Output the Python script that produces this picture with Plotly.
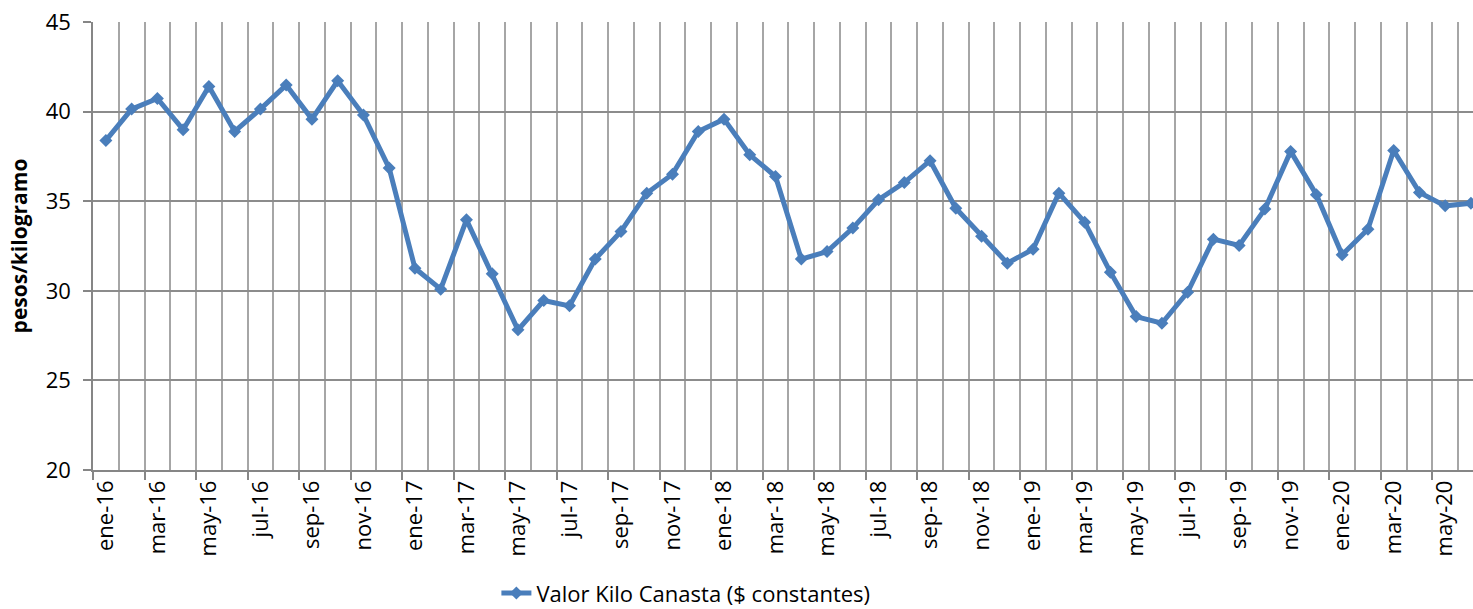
import plotly.graph_objects as go

meses = ["ene", "feb", "mar", "abr", "may", "jun", "jul", "ago", "sep", "oct", "nov", "dic"]
months = [f"{m}-{y}" for y in ["16", "17", "18", "19", "20"] for m in meses][:54]

valor_kilo = [
    38.39, 40.14, 40.73, 38.99, 41.40, 38.89, 40.14, 41.48, 39.58, 41.72, 39.81, 36.85,
    31.26, 30.09, 33.96, 30.95, 27.82, 29.46, 29.16, 31.77, 33.31, 35.45, 36.51, 38.89,
    39.58, 37.59, 36.38, 31.77, 32.19, 33.50, 35.08, 36.04, 37.26, 34.61, 33.05, 31.54,
    32.32, 35.45, 33.83, 31.04, 28.56, 28.19, 29.92, 32.88, 32.53, 34.56, 37.78, 35.36,
    32.01, 33.44, 37.83, 35.49, 34.74, 34.89,
]

series_name = "Valor Kilo Canasta ($ constantes)"
y_title = "pesos/kilogramo"
y_ticks = [20, 25, 30, 35, 40, 45]

x_idx = list(range(len(months)))
label_pos = [i - 0.5 for i in x_idx[::2]]
label_txt = months[::2]
minor_pos = [i + 0.5 for i in x_idx[::2]]

FONT = "Open Sans"
GRID = "#A6A6A6"
BLUE = "#4A7EBB"

fig = go.Figure()
fig.add_trace(go.Scatter(
    x=x_idx, y=valor_kilo, name=series_name, mode="lines+markers",
    line=dict(color=BLUE, width=5),
    marker=dict(symbol="diamond", size=10, color=BLUE),
    cliponaxis=False,
))

fig.update_layout(
    width=1473, height=609,
    margin=dict(l=93, r=0, t=22, b=139, autoexpand=False),
    paper_bgcolor="white", plot_bgcolor="white",
    font=dict(family=FONT, size=22, color="black"),
    showlegend=True,
    legend=dict(orientation="h", xref="container", yref="container",
                x=0.337, xanchor="left", y=0.026, yanchor="middle",
                font=dict(family=FONT, size=22, color="black")),
    xaxis=dict(
        range=[-0.5, 53.08],
        tickmode="array", tickvals=label_pos, ticktext=label_txt,
        tickangle=-90, ticklabelshift=13, ticklabelstandoff=-8,
        ticks="outside", ticklen=8, tickcolor="#868686", tickwidth=1.5,
        showgrid=True, gridcolor=GRID, gridwidth=2,
        minor=dict(tickmode="array", tickvals=minor_pos, showgrid=True,
                   gridcolor=GRID, gridwidth=2, ticks=""),
        showline=True, linecolor="#868686", linewidth=1.5,
        zeroline=False, automargin=False,
        tickfont=dict(family=FONT, size=22),
    ),
    yaxis=dict(
        range=[20, 45], tickmode="array", tickvals=y_ticks,
        ticks="outside", ticklen=8, tickcolor="#868686", tickwidth=1.5,
        ticklabelstandoff=8,
        showgrid=True, gridcolor="#8C8C8C", gridwidth=2,
        showline=True, linecolor="#868686", linewidth=1.5,
        zeroline=False, automargin=False,
        title=dict(text=f"<b>{y_title}</b>", font=dict(family=FONT, size=21), standoff=12),
        tickfont=dict(family=FONT, size=22),
    ),
)

fig.write_html("out.html", config={"displayModeBar": False},
               post_script="document.body.style.margin='0';")
